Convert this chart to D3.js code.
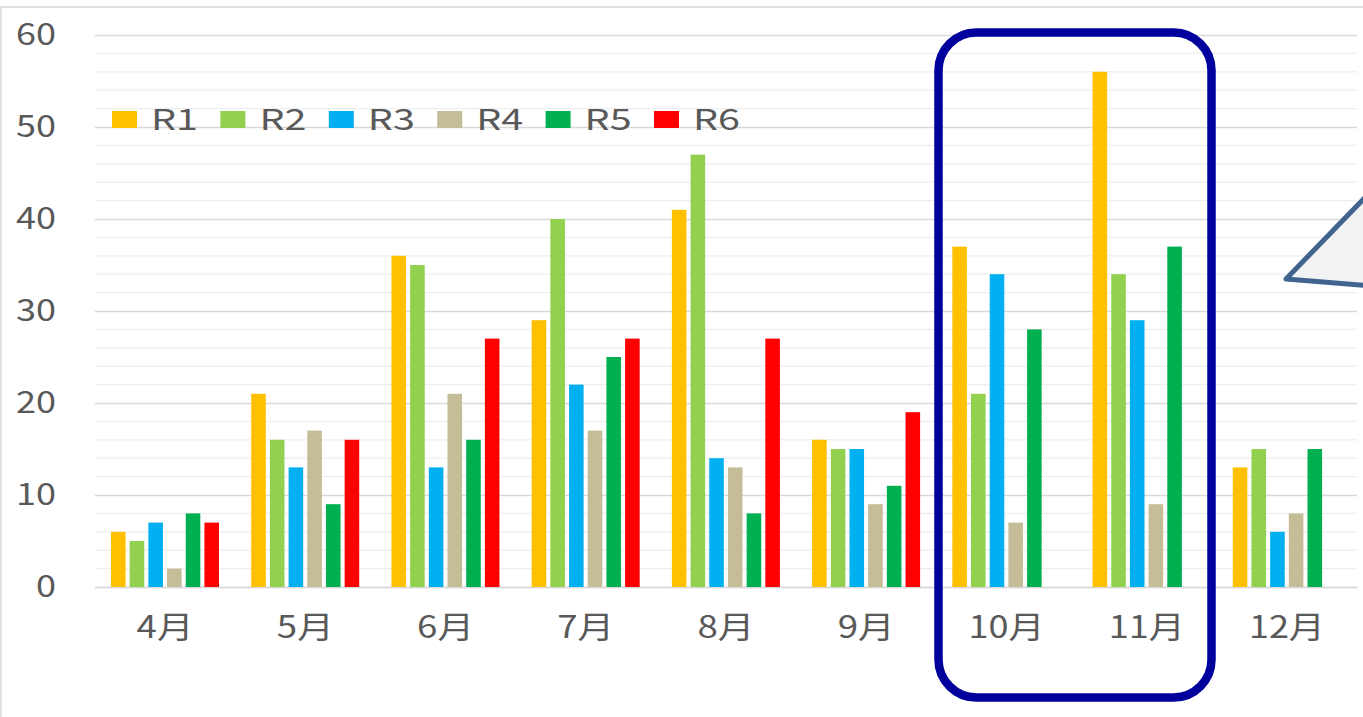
<!DOCTYPE html>
<html>
<head>
<meta charset="utf-8">
<script src="https://cdn.jsdelivr.net/npm/d3@7"></script>
<style>
  html, body { margin: 0; padding: 0; background: #fff; overflow: hidden; }
  svg { display: block; }
  text { font-family: "Noto Sans CJK JP", "Noto Sans", sans-serif; fill: #595959; font-weight: 400; }
</style>
</head>
<body>
<svg id="chart" width="1363" height="717"></svg>
<script>
// ── データ ─────────────────────────────────────────
const months = ["4月", "5月", "6月", "7月", "8月", "9月", "10月", "11月", "12月"];
const seriesNames = ["R1", "R2", "R3", "R4", "R5", "R6"];
const seriesColors = ["#FFC000", "#92D050", "#00B0F0", "#C4BD97", "#00B050", "#FF0000"];
const r1 = [6, 21, 36, 29, 41, 16, 37, 56, 13];
const r2 = [5, 16, 35, 40, 47, 15, 21, 34, 15];
const r3 = [7, 13, 13, 22, 14, 15, 34, 29, 6];
const r4 = [2, 17, 21, 17, 13, 9, 7, 9, 8];
const r5 = [8, 9, 16, 25, 8, 11, 28, 37, 15];
const r6 = [7, 16, 27, 27, 27, 19, null, null, null];
const yTicks = [0, 10, 20, 30, 40, 50, 60];

const seriesValues = [r1, r2, r3, r4, r5, r6];

// ── レイアウト ─────────────────────────────────────
const svg = d3.select("#chart");
const PLOT_L = 95, PLOT_R = 1357;
const Y0 = 587, Y60 = 35;

const x0 = d3.scaleBand().domain(months).range([PLOT_L, PLOT_R]).padding(0);
const x1 = d3.scaleBand().domain(seriesNames).range([16, 124]).paddingInner(0.22).paddingOuter(0);
const y = d3.scaleLinear().domain([0, 60]).range([Y0, Y60]);

// 外枠（チャートエリア）
svg.append("rect")
  .attr("x", 1).attr("y", 7).attr("width", 1400).attr("height", 800)
  .attr("fill", "#fff").attr("stroke", "#D9D9D9").attr("stroke-width", 1.5);

// 補助目盛線（2刻み）
const minor = d3.range(0, 61, 2).filter(v => v % 10 !== 0);
svg.append("g").selectAll("line").data(minor).join("line")
  .attr("x1", PLOT_L).attr("x2", PLOT_R)
  .attr("y1", d => y(d)).attr("y2", d => y(d))
  .attr("stroke", "#EEEEEE").attr("stroke-width", 1.2);

// 主目盛線 + Y軸ラベル
const yAxis = svg.append("g")
  .attr("transform", `translate(${PLOT_L},0)`)
  .call(d3.axisLeft(y).tickValues(yTicks).tickSize(-(PLOT_R - PLOT_L)).tickPadding(39));
yAxis.select(".domain").remove();
yAxis.selectAll(".tick line").attr("stroke", "#D9D9D9").attr("stroke-width", 1.5);
yAxis.selectAll(".tick text")
  .attr("font-size", 30)
  .attr("x", -39)
  .attr("textLength", d => d === 0 ? 20 : 40)
  .attr("lengthAdjust", "spacingAndGlyphs");

// X軸ラベル
const xAxis = svg.append("g")
  .attr("transform", `translate(0,${Y0})`)
  .call(d3.axisBottom(x0).tickSize(0).tickPadding(29));
xAxis.select(".domain").attr("stroke", "#D9D9D9").attr("stroke-width", 1.5);
xAxis.selectAll(".tick text")
  .attr("font-size", 31)
  .attr("textLength", d => d.length > 2 ? 76 : 57)
  .attr("lengthAdjust", "spacingAndGlyphs");

// 棒
const groups = svg.append("g").selectAll("g").data(months).join("g")
  .attr("transform", d => `translate(${x0(d)},0)`);
groups.selectAll("rect")
  .data((m, i) => seriesNames.map((s, k) => ({ s, k, v: seriesValues[k][i] })).filter(d => d.v != null))
  .join("rect")
  .attr("x", d => x1(d.s))
  .attr("width", x1.bandwidth())
  .attr("y", d => y(d.v))
  .attr("height", d => y(0) - y(d.v))
  .attr("fill", d => seriesColors[d.k]);

// 凡例
const LEG_X = 112, LEG_STEP = 108.4, LEG_Y = 130;
const legend = svg.append("g").selectAll("g").data(seriesNames).join("g")
  .attr("transform", (d, i) => `translate(${LEG_X + i * LEG_STEP},${LEG_Y})`);
legend.append("rect")
  .attr("x", 0).attr("y", -19).attr("width", 25).attr("height", 17)
  .attr("fill", (d, i) => seriesColors[i]);
legend.append("text")
  .attr("x", 39).attr("y", 0)
  .attr("font-size", 29)
  .attr("textLength", 47)
  .attr("lengthAdjust", "spacingAndGlyphs")
  .text(d => d);

// 10月・11月の強調枠
svg.append("rect")
  .attr("x", 938.5).attr("y", 32.5)
  .attr("width", 1211.5 - 938.5).attr("height", 697.5 - 32.5)
  .attr("rx", 38).attr("ry", 38)
  .attr("fill", "none").attr("stroke", "#00009C").attr("stroke-width", 8.5);

// 吹き出し（右端）
svg.append("path")
  .attr("d", "M1286,279 L1380,182 L1380,286.5 Z")
  .attr("fill", "#F2F2F2").attr("stroke", "#41648F").attr("stroke-width", 5)
  .attr("stroke-linejoin", "round");
</script>
</body>
</html>
